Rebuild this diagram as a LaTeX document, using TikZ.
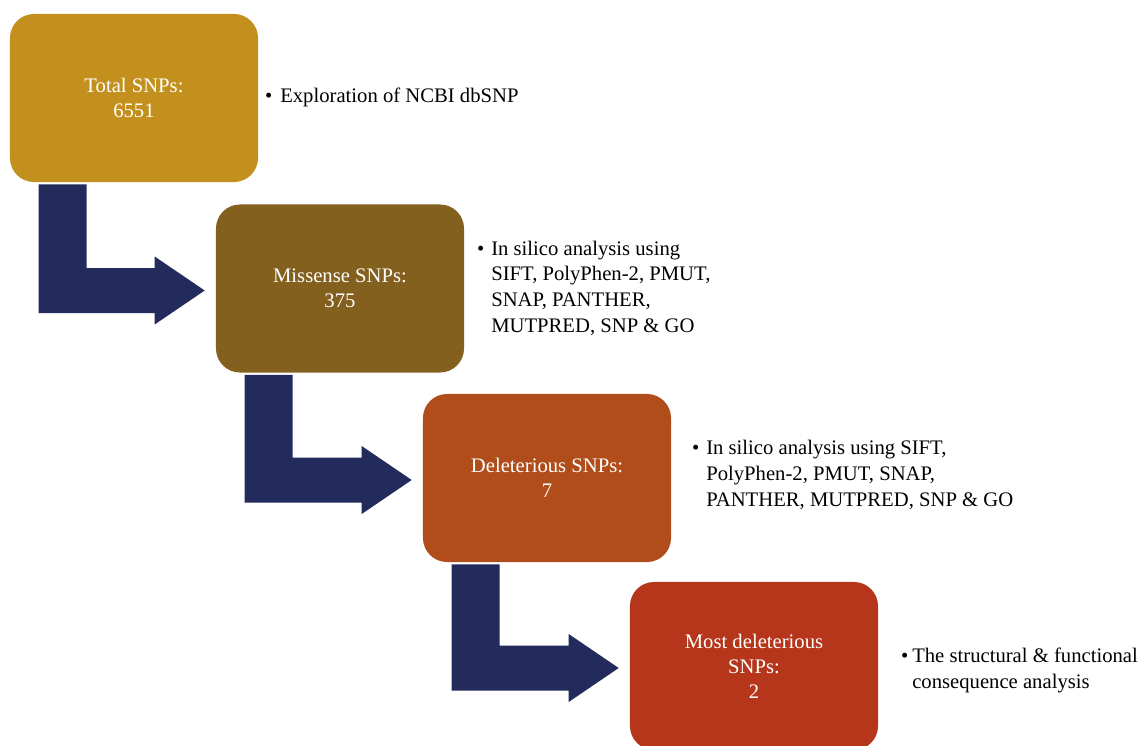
\documentclass[tikz,border=0pt]{standalone}
\usepackage{fontspec}
\setmainfont{Liberation Serif}
\usepackage{tikz}
\usetikzlibrary{calc}
\definecolor{goldbox}{RGB}{195,144,30}
\definecolor{brownbox}{RGB}{132,96,31}
\definecolor{rustbox}{RGB}{176,77,27}
\definecolor{redbox}{RGB}{181,54,27}
\definecolor{navyarrow}{RGB}{35,42,92}

\begin{document}
\begin{tikzpicture}[x=0.025cm, y=-0.025cm,
    stage/.style={minimum width=6.2cm, minimum height=4.2cm, rounded corners=0.6cm,
                  align=center, text=white, font=\fontsize{14.7}{17.8}\selectfont},
    note/.style={anchor=base west, align=left, inner sep=0pt,
                 font=\fontsize{14.7}{18.2}\selectfont}
]
    \useasboundingbox (0,0) rectangle (1147,745);

    % Stages
    \node[stage, fill=goldbox] (total) at (134,98) {Total SNPs:\\6551};
    \node[stage, fill=brownbox] (missense) at (340,288.5) {Missense SNPs:\\375};
    \node[stage, fill=rustbox] (deleterious) at (547,478) {Deleterious SNPs:\\7};
    \node[stage, fill=redbox] (most) at (754,666) {Most deleterious\\SNPs:\\2};

    % Notes (placed at the baseline of their last line)
    \node[note] (exploration) at (280,102)
        {\llap{\textbullet\hspace{0.2cm}}Exploration of NCBI dbSNP};
    \node[note] (insilico) at (491,332)
        {\llap{\textbullet\hspace{0.17cm}}In silico analysis using\\SIFT, PolyPhen-2, PMUT,\\SNAP, PANTHER,\\MUTPRED, SNP \& GO};
    \node[note] (insilicoall) at (706,506)
        {\llap{\textbullet\hspace{0.17cm}}In silico analysis using SIFT,\\PolyPhen-2, PMUT, SNAP,\\PANTHER, MUTPRED, SNP \& GO};
    \node[note] (structural) at (912,688)
        {\llap{\textbullet\hspace{0.1cm}}The structural \& functional\\consequence analysis};

    % Step arrows
    \foreach \from/\to in {total/missense, missense/deleterious, deleterious/most} {
        \coordinate (bar) at ($(\from.south west)+(29,2)$);
        \coordinate (tip) at ($(\to.west)+(-11,2)$);
        \fill[navyarrow] (bar) -- ($(bar)+(48,0)$) -- ($(bar |- tip)+(48,-22.5)$)
            -- ($(tip)+(-50,-22.5)$) -- ($(tip)+(-50,-34)$) -- (tip)
            -- ($(tip)+(-50,34)$) -- ($(tip)+(-50,22.5)$)
            -- ($(bar |- tip)+(0,22.5)$) -- cycle;
    }
\end{tikzpicture}
\end{document}
